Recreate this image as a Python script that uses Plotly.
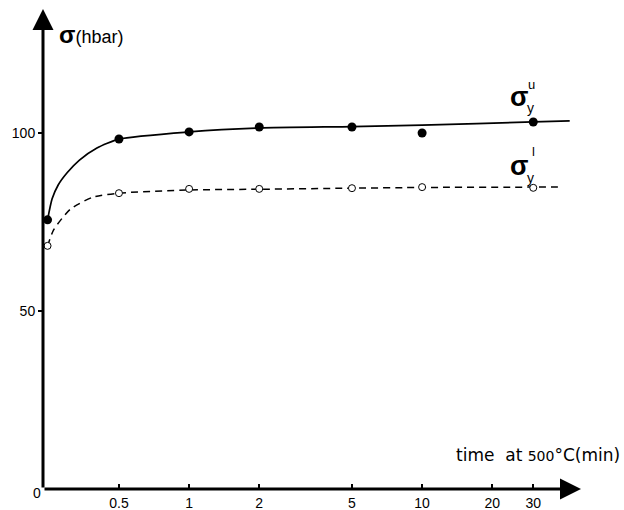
import math
import numpy as np
import plotly.graph_objects as go

# ---- data (time in min at 500 °C, stress in hbar) ----
t_points = [0.03, 0.5, 1, 2, 5, 10, 30]
sigma_u = [75.6, 98.3, 100.3, 101.7, 101.7, 100.0, 103.1]
sigma_l = [68.3, 83.1, 84.3, 84.3, 84.5, 84.8, 84.6]

# drawn (hand-fitted) curves
t_curve_u = [0.03, 0.06, 0.1, 0.16, 0.24, 0.355, 0.5, 1, 2, 5, 10, 30, 43]
curve_u = [75.6, 81.5, 85.4, 88.9, 92.4, 95.8, 98.3, 100.3, 101.4, 101.8, 102.2, 103.1, 103.4]
t_curve_l = [0.03, 0.07, 0.18, 0.33, 0.5, 1, 2, 5, 10, 30, 40]
curve_l = [68.3, 72.8, 78.6, 82.0, 83.1, 84.0, 84.2, 84.5, 84.7, 84.8, 84.8]

x_tick_vals = [0.5, 1, 2, 5, 10, 20, 30]
x_tick_text = ["0.5", "1", "2", "5", "10", "20", "30"]
y_tick_vals = [50, 100]
y_tick_text = ["50", "100"]

# broken time axis: linear between 0 and 0.5, logarithmic beyond
GAP = 0.326


def xpos(t):
    t = np.asarray(t, dtype=float)
    return np.where(t >= 0.5, np.log10(np.maximum(t, 1e-9)),
                    math.log10(0.5) - (0.5 - t) / 0.5 * GAP)


x0 = float(xpos(0))
FONT = "Liberation Sans"

fig = go.Figure()
fig.add_trace(go.Scatter(x=xpos(t_curve_u), y=curve_u, mode="lines",
                         line=dict(color="black", width=1.7, shape="spline", smoothing=0.6),
                         hoverinfo="skip"))
fig.add_trace(go.Scatter(x=xpos(t_curve_l), y=curve_l, mode="lines",
                         line=dict(color="black", width=1.5, dash="7px,5px", shape="spline", smoothing=0.6),
                         hoverinfo="skip"))
fig.add_trace(go.Scatter(x=xpos(t_points), y=sigma_u, mode="markers",
                         marker=dict(color="black", size=9), cliponaxis=False))
fig.add_trace(go.Scatter(x=xpos(t_points), y=sigma_l, mode="markers",
                         marker=dict(color="white", size=7, line=dict(color="black", width=1)),
                         cliponaxis=False))

W, H = 624, 510
ml, mb, mt, mr = 43, 21, 9, 0
pw, ph = W - ml - mr, H - mt - mb
pxdec = 233.0
y_per = 3.56

fig.update_layout(
    width=W, height=H,
    margin=dict(l=ml, r=mr, t=mt, b=mb),
    paper_bgcolor="white", plot_bgcolor="white",
    showlegend=False,
    font=dict(family=FONT, color="black", size=13),
    xaxis=dict(range=[x0, x0 + pw / pxdec], tickmode="array",
               tickvals=list(xpos(x_tick_vals)), ticktext=x_tick_text,
               ticks="inside", ticklen=5, tickwidth=2, tickcolor="black",
               showgrid=False, zeroline=False, showline=False,
               ticklabelstandoff=4, tickfont=dict(size=14)),
    yaxis=dict(range=[0, ph / y_per], tickmode="array",
               tickvals=y_tick_vals, ticktext=y_tick_text,
               ticks="outside", ticklen=4, tickwidth=2, tickcolor="black",
               showgrid=False, zeroline=False, showline=False,
               tickfont=dict(size=14)),
)


def px(x):
    return (x - ml) / pw


def py(y):
    return (H - mb - y) / ph


# axis arrows
fig.add_annotation(x=0, y=py(9), xref="paper", yref="paper", ax=0, ay=480,
                   axref="pixel", ayref="pixel", text="", showarrow=True,
                   arrowhead=2, arrowsize=1.4, arrowwidth=3, arrowcolor="black")
fig.add_annotation(x=px(581), y=0, xref="paper", yref="paper", ax=-538, ay=0,
                   text="", showarrow=True,
                   arrowhead=2, arrowsize=1.4, arrowwidth=3, arrowcolor="black")

# texts
fig.add_annotation(x=px(31), y=py(503), xref="paper", yref="paper", text="0",
                   showarrow=False, font=dict(size=14))
fig.add_annotation(x=px(57), y=py(19), xref="paper", yref="paper",
                   text="<b style='font-size:24px'>σ</b>(hbar)", showarrow=False,
                   xanchor="left", font=dict(size=18))
fig.add_annotation(x=px(622), y=py(467), xref="paper", yref="paper",
                   text="time  at <span style='font-size:14px'>500</span>°C(min)",
                   showarrow=False, xanchor="right",
                   font=dict(size=17, family="DejaVu Sans"))

for (sy, ly, yy, lab) in [(98, 85, 107, "u"), (167, 152, 177, "l")]:
    fig.add_annotation(x=px(530), y=py(sy - 18), xref="paper", yref="paper", text="<b>σ</b>",
                       showarrow=False, font=dict(size=27))
    fig.add_annotation(x=px(537), y=py(ly - 10), xref="paper", yref="paper", text=lab,
                       showarrow=False, font=dict(size=13))
    fig.add_annotation(x=px(536), y=py(yy - 9), xref="paper", yref="paper", text="y",
                       showarrow=False, font=dict(size=14))

fig.write_html("out.html")
